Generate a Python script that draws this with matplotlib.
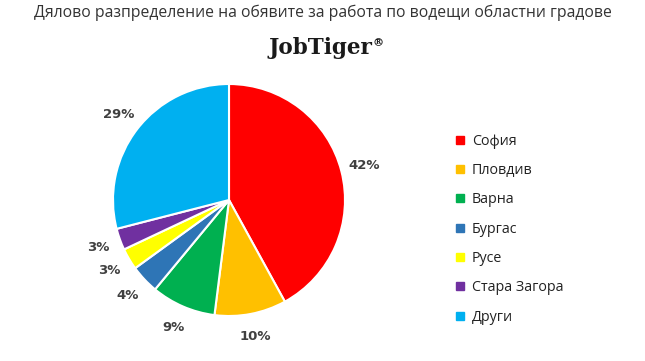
import matplotlib
matplotlib.use('Agg')
import matplotlib.pyplot as plt
from matplotlib.lines import Line2D

# data
cities = ['София', 'Пловдив', 'Варна', 'Бургас', 'Русе', 'Стара Загора', 'Други']
shares = [42, 10, 9, 4, 3, 3, 29]
colors = ['#FF0000', '#FFC000', '#00B050', '#2E75B6', '#FFFF00', '#7030A0', '#00B0F0']

W, H = 645, 361
fig = plt.figure(figsize=(W / 100, H / 100), dpi=100)
fig.patch.set_facecolor('white')

fig.text(0.5, 1 - 13 / H, 'Дялово разпределение на обявите за работа по водещи областни градове',
         ha='center', va='center', fontsize=11.3, color='#333333', family='Open Sans')
# logo text with small raised ®
fig.text(372 / W, 1 - 48 / H, 'JobTiger', ha='right', va='center', fontsize=15.5,
         fontweight='bold', color='#1a1a1a', family='DejaVu Serif')
fig.text(373 / W, 1 - 43 / H, '®', ha='left', va='center', fontsize=8,
         fontweight='bold', color='#1a1a1a', family='DejaVu Serif')

# pie: centre (229,200), radius 116 px
cx, cy, r = 229, 200, 116
ax = fig.add_axes([(cx - r) / W, 1 - (cy + r) / H, 2 * r / W, 2 * r / H])
wedges, _, autotexts = ax.pie(shares, colors=colors, startangle=90, counterclock=False,
                              autopct='%1.0f%%', pctdistance=1.2, radius=1,
                              wedgeprops=dict(edgecolor='white', linewidth=1.5),
                              textprops=dict(fontsize=9.5, fontweight='bold', color='#404040'))
ax.set_aspect('equal')
ax.set_xlim(-1, 1)
ax.set_ylim(-1, 1)

handles = [Line2D([0], [0], marker='s', linestyle='none', markersize=6,
                  markerfacecolor=c, markeredgecolor=c) for c in colors]
fig.legend(handles, cities, loc='upper left', bbox_to_anchor=(442 / W, 1 - 121 / H),
           frameon=False, prop={'size': 10.3, 'family': 'Open Sans'}, handlelength=0.7,
           handletextpad=0.5, labelspacing=1.0, labelcolor='#222222')

fig.savefig('out.png', dpi=100)
